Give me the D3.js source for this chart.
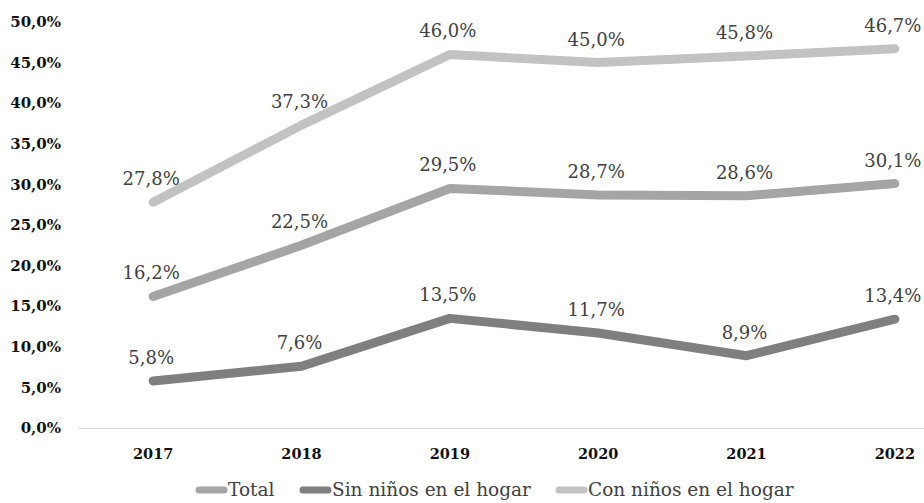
<!DOCTYPE html>
<html>
<head>
<meta charset="utf-8">
<script src="https://cdn.jsdelivr.net/npm/d3@7/dist/d3.min.js"></script>
<style>
  html, body { margin: 0; padding: 0; background: #fff; }
  svg { display: block; }
</style>
</head>
<body>
<svg id="chart" width="924" height="503"></svg>
<script>
// Years on the x axis
const years = ["2017", "2018", "2019", "2020", "2021", "2022"];

// Percentages per series
const total = [16.2, 22.5, 29.5, 28.7, 28.6, 30.1];
const sinNinos = [5.8, 7.6, 13.5, 11.7, 8.9, 13.4];
const conNinos = [27.8, 37.3, 46.0, 45.0, 45.8, 46.7];

const seriesNames = ["Total", "Sin niños en el hogar", "Con niños en el hogar"];
const seriesColors = ["#a5a5a5", "#7f7f7f", "#c2c2c2"];

// Y axis tick values
const yTicks = [0, 5, 10, 15, 20, 25, 30, 35, 40, 45, 50];

const series = [
  { name: seriesNames[0], values: total, color: seriesColors[0] },
  { name: seriesNames[1], values: sinNinos, color: seriesColors[1] },
  { name: seriesNames[2], values: conNinos, color: seriesColors[2] }
];

const fmt = v => v.toFixed(1).replace(".", ",") + "%";

const svg = d3.select("#chart");
const serif = "'DejaVu Serif', 'Liberation Serif', serif";

const x = d3.scaleBand().domain(years).range([79, 969]);
const y = d3.scaleLinear().domain([0, 50]).range([428, 22]);
const cx = d => x(d) + x.bandwidth() / 2;

// Y axis labels
svg.append("g")
  .selectAll("text")
  .data(yTicks)
  .join("text")
  .attr("x", 61)
  .attr("y", d => y(d))
  .attr("dy", "0.35em")
  .attr("text-anchor", "end")
  .attr("font-family", serif)
  .attr("font-weight", "bold")
  .attr("font-size", 15)
  .attr("fill", "#111")
  .text(d => d.toFixed(1).replace(".", ",") + "%");

// Baseline
svg.append("line")
  .attr("x1", 79).attr("x2", 924)
  .attr("y1", y(0) + 0.5).attr("y2", y(0) + 0.5)
  .attr("stroke", "#d9d9d9")
  .attr("stroke-width", 1);

// X axis labels
svg.append("g")
  .selectAll("text")
  .data(years)
  .join("text")
  .attr("x", d => cx(d))
  .attr("y", 459)
  .attr("text-anchor", "middle")
  .attr("font-family", serif)
  .attr("font-weight", "bold")
  .attr("font-size", 14.5)
  .attr("fill", "#111")
  .text(d => d);

const line = d3.line()
  .x((d, i) => cx(years[i]))
  .y(d => y(d));

// Lines
svg.append("g")
  .selectAll("path")
  .data(series)
  .join("path")
  .attr("d", d => line(d.values))
  .attr("fill", "none")
  .attr("stroke", d => d.color)
  .attr("stroke-width", 9)
  .attr("stroke-linecap", "round")
  .attr("stroke-linejoin", "round");

// Data labels
series.forEach(s => {
  svg.append("g")
    .selectAll("text")
    .data(s.values)
    .join("text")
    .attr("x", (d, i) => cx(years[i]) - 2)
    .attr("y", d => y(d) - 17)
    .attr("text-anchor", "middle")
    .attr("font-family", serif)
    .attr("font-size", 18)
    .attr("fill", "#404040")
    .text(d => fmt(d));
});

// Legend
const legendX = [196, 300, 556];
const legend = svg.append("g")
  .selectAll("g")
  .data(series)
  .join("g")
  .attr("transform", (d, i) => `translate(${legendX[i]},490)`);

legend.append("line")
  .attr("x1", 3).attr("x2", 28)
  .attr("y1", 0).attr("y2", 0)
  .attr("stroke", d => d.color)
  .attr("stroke-width", 7)
  .attr("stroke-linecap", "round");

legend.append("text")
  .attr("x", 32)
  .attr("y", 0)
  .attr("dy", "0.35em")
  .attr("font-family", serif)
  .attr("font-size", 18.5)
  .attr("fill", "#404040")
  .text(d => d.name);
</script>
</body>
</html>
